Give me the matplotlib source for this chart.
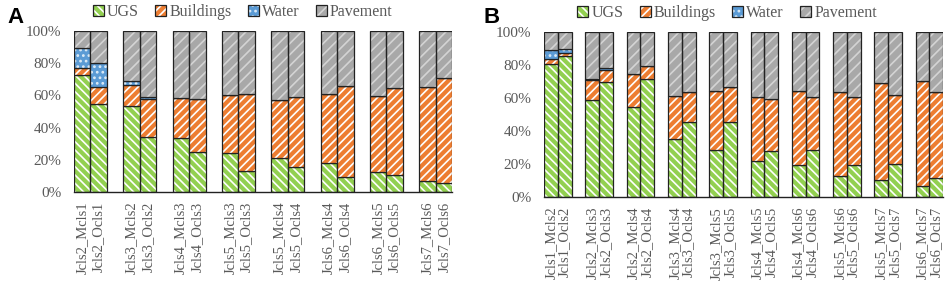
import matplotlib.pyplot as plt
from matplotlib.patches import Patch
import numpy as np

# panel A
labels_a = ["Jcls2_Mcls1", "Jcls2_Ocls1", "Jcls3_Mcls2", "Jcls3_Ocls2",
            "Jcls4_Mcls3", "Jcls4_Ocls3", "Jcls5_Mcls3", "Jcls5_Ocls3",
            "Jcls5_Mcls4", "Jcls5_Ocls4", "Jcls6_Mcls4", "Jcls6_Ocls4",
            "Jcls6_Mcls5", "Jcls6_Ocls5", "Jcls7_Mcls6", "Jcls7_Ocls6"]
ugs_a = [72.6, 54.4, 53.5, 34.4, 33.6, 24.7, 24.3, 13.1,
         21.2, 15.6, 17.8, 9.3, 12.4, 10.6, 7.1, 5.4]
bld_a = [4.4, 10.5, 13.1, 23.5, 24.9, 33.0, 36.1, 47.9,
         36.1, 43.5, 43.2, 56.5, 47.1, 54.1, 58.3, 65.6]
wat_a = [12.6, 15.2, 2.3, 1.2, 0.1, 0.1, 0.0, 0.0,
         0.0, 0.0, 0.0, 0.0, 0.0, 0.0, 0.0, 0.0]
pav_a = [10.4, 19.9, 31.1, 40.9, 41.4, 42.2, 39.6, 39.0,
         42.7, 40.9, 39.0, 34.2, 40.5, 35.3, 34.6, 29.0]

# panel B
labels_b = ["Jcls1_Mcls2", "Jcls1_Ocls2", "Jcls2_Mcls3", "Jcls2_Ocls3",
            "Jcls2_Mcls4", "Jcls2_Ocls4", "Jcls3_Mcls4", "Jcls3_Ocls4",
            "Jcls3_Mcls5", "Jcls3_Ocls5", "Jcls4_Mcls5", "Jcls4_Ocls5",
            "Jcls4_Mcls6", "Jcls4_Ocls6", "Jcls5_Mcls6", "Jcls5_Ocls6",
            "Jcls5_Mcls7", "Jcls5_Ocls7", "Jcls6_Mcls7", "Jcls6_Ocls7"]
ugs_b = [80.8, 85.5, 58.8, 69.9, 54.7, 71.7, 35.4, 45.3, 28.7, 45.7,
         21.8, 28.1, 19.6, 28.7, 12.9, 19.4, 10.3, 20.2, 6.9, 11.7]
bld_b = [2.8, 1.8, 12.3, 7.3, 19.8, 7.7, 26.0, 18.1, 35.9, 21.0,
         38.6, 31.5, 44.8, 31.7, 50.9, 41.0, 59.0, 41.8, 63.6, 52.1]
wat_b = [5.7, 2.6, 0.2, 0.8, 0.1, 0.3, 0.1, 0.3, 0.0, 0.0,
         0.0, 0.0, 0.0, 0.0, 0.0, 0.0, 0.0, 0.0, 0.0, 0.0]
pav_b = [10.7, 10.1, 28.7, 22.0, 25.4, 20.3, 38.5, 36.3, 35.4, 33.3,
         39.6, 40.4, 35.6, 39.6, 36.2, 39.6, 30.7, 38.0, 29.5, 36.2]

names = ["UGS", "Buildings", "Water", "Pavement"]
faces = ["#92D050", "#ED7D31", "#5B9BD5", "#A8A8A8"]
hatch_cols = ["white", "white", "#DDEBF7", "#D4D4D4"]
hatches = ["\\\\\\\\", "////", "...", "///"]

plt.rcParams['hatch.linewidth'] = 1.2
plt.rcParams['font.family'] = ['Liberation Serif', 'DejaVu Serif']
gray = "#595959"

fig = plt.figure(figsize=(9.48, 2.84), dpi=100)
ax_a = fig.add_axes([0.078, 0.324, 0.399, 0.567])
ax_b = fig.add_axes([0.574, 0.306, 0.421, 0.581])


def draw(ax, labels, series):
    n = len(labels)
    x = np.array([(i // 2) * 3 + i % 2 for i in range(n)])
    bottom = np.zeros(n)
    for vals, fc, hc, h in zip(series, faces, hatch_cols, hatches):
        vals = np.array(vals)
        ax.bar(x, vals, width=1.0, bottom=bottom, color=fc, hatch=h,
               edgecolor=hc, linewidth=0)
        ax.bar(x, vals, width=1.0, bottom=bottom, fill=False,
               edgecolor="#222222", linewidth=0.9)
        bottom += vals
    ax.set_xlim(-0.5, x[-1] + 0.5)
    ax.set_ylim(0, 100)
    ax.set_yticks(range(0, 101, 20))
    ax.set_yticklabels([f"{v}%" for v in range(0, 101, 20)],
                       fontsize=11, color=gray)
    ax.set_xticks(x)
    ax.set_xticklabels(labels, rotation=90, fontsize=10.5, color=gray)
    ax.tick_params(axis="y", length=0, pad=9)
    ax.tick_params(axis="x", length=0, pad=7)
    for s in ["top", "right", "left"]:
        ax.spines[s].set_visible(False)
    ax.spines["bottom"].set_color("#222222")
    ax.spines["bottom"].set_linewidth(1.0)


draw(ax_a, labels_a, [ugs_a, bld_a, wat_a, pav_a])
draw(ax_b, labels_b, [ugs_b, bld_b, wat_b, pav_b])

handles = []
for fc, hc, h in zip(faces, hatch_cols, hatches):
    handles.append((Patch(facecolor=fc, hatch=h, edgecolor=hc, linewidth=0),
                    Patch(fill=False, edgecolor="#222222", linewidth=0.9)))

for cx, cy in [(0.256, 0.958), (0.767, 0.953)]:
    leg = fig.legend(handles, names, loc="center", bbox_to_anchor=(cx, cy),
                     ncol=4, frameon=False, fontsize=11.5, handlelength=0.7,
                     handleheight=0.7, handletextpad=0.2, columnspacing=1.0,
                     borderaxespad=0)
    for t in leg.get_texts():
        t.set_color(gray)

fig.text(0.008, 0.975, "A", fontsize=16, fontweight="bold", va="top",
         family="Liberation Sans")
fig.text(0.51, 0.975, "B", fontsize=16, fontweight="bold", va="top",
         family="Liberation Sans")

fig.savefig("out.png", dpi=100)
